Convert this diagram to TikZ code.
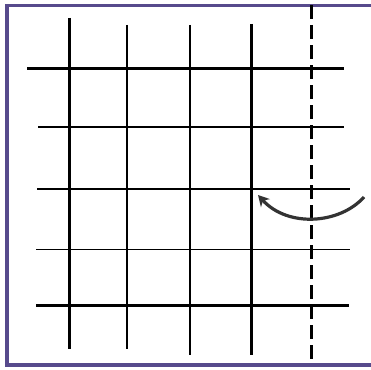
\documentclass[tikz,border=0pt]{standalone}
\usetikzlibrary{arrows.meta}
\definecolor{framepurple}{HTML}{574A8C}
\definecolor{arrowgray}{HTML}{333333}
\tikzset{
  gridline/.style={line width=2.2pt, black},
  foldline/.style={line width=3pt, black, dash pattern=on 14pt off 6pt},
  framebox/.style={line width=3.2pt, framepurple},
  turnarrow/.style={line width=3.2pt, arrowgray, -{Stealth[length=11pt,width=12pt]}}
}
\begin{document}
\begin{tikzpicture}[x=1pt,y=-1pt]
\useasboundingbox (0,0) rectangle (371,369);
\fill[white] (0,0) rectangle (371,369);
% frame (open on the right)
\draw[framebox] (372,5.5) -- (7,5.5) -- (7,365) -- (372,365);
% vertical lines
\draw[gridline] (69.5,18) -- (69.5,349);
\draw[gridline] (127,25) -- (127,349);
\draw[gridline] (190,25) -- (190,355);
\draw[gridline] (251.5,24) -- (251.5,355);
% horizontal lines
\draw[gridline] (27,68.5) -- (344,68.5);
\draw[gridline] (38,127) -- (344,127);
\draw[gridline] (37,189) -- (350,189);
\draw[gridline, line width=1.5pt] (36,249.5) -- (350,249.5);
\draw[gridline] (36,305.5) -- (349,305.5);
% dashed fold line
\draw[foldline] (311,5) -- (311,365);
% curved arrow
\coordinate (as) at (364,197);
\coordinate (ae) at (258,195);
\draw[turnarrow] (as) .. controls (340,224) and (288,228) .. (ae);
\end{tikzpicture}
\end{document}
